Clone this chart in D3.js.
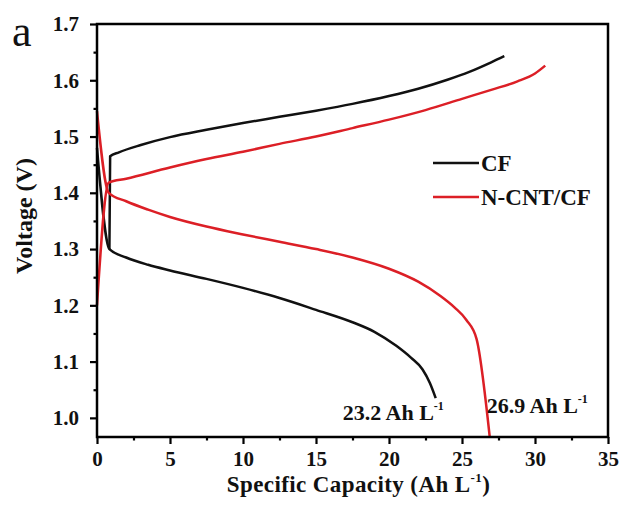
<!DOCTYPE html>
<html>
<head>
<meta charset="utf-8">
<script src="https://cdn.jsdelivr.net/npm/d3@7"></script>
<style>
  body { margin: 0; background: #fff; }
  text { font-family: "Liberation Serif", "Times New Roman", serif; }
</style>
</head>
<body>
<div id="chart"></div>
<script>
// charge / discharge curves (capacity in Ah/L, voltage in V)
const cfChargeX = [0.85, 0.9, 1.5, 3, 5, 7.5, 10, 12.5, 15, 17.5, 20, 22, 24, 25.5, 27, 27.9];
const cfChargeV = [1.30, 1.465, 1.472, 1.485, 1.499, 1.512, 1.524, 1.535, 1.546, 1.558, 1.572, 1.585, 1.601, 1.615, 1.632, 1.643];
const cfDischargeX = [0, 0.85, 2, 3.5, 5, 7.5, 10, 12.5, 15, 17.5, 19, 20.5, 21.5, 22.3, 22.8, 23.2];
const cfDischargeV = [1.48, 1.30, 1.285, 1.272, 1.262, 1.247, 1.231, 1.213, 1.192, 1.17, 1.153, 1.128, 1.107, 1.086, 1.062, 1.035];
const cntChargeX = [0, 0.8, 2, 5, 7.5, 10, 12.5, 15, 17.5, 20, 22.5, 25, 27, 28.8, 30, 30.7];
const cntChargeV = [1.20, 1.418, 1.425, 1.445, 1.46, 1.473, 1.487, 1.5, 1.515, 1.53, 1.547, 1.567, 1.583, 1.598, 1.612, 1.626];
const cntDischargeX = [0, 0.8, 2, 3.5, 5, 7.5, 10, 12.5, 15, 17.5, 20, 22, 23.5, 24.5, 25.3, 26.0, 26.9];
const cntDischargeV = [1.545, 1.40, 1.385, 1.37, 1.357, 1.34, 1.326, 1.313, 1.3, 1.285, 1.265, 1.242, 1.217, 1.196, 1.174, 1.14, 0.966];

const xMajor = [0, 5, 10, 15, 20, 25, 30, 35];
const xMinor = [2.5, 7.5, 12.5, 17.5, 22.5, 27.5, 32.5];
const yMajor = [1.0, 1.1, 1.2, 1.3, 1.4, 1.5, 1.6, 1.7];
const yMinor = [1.05, 1.15, 1.25, 1.35, 1.45, 1.55, 1.65];

const seriesNames = ["CF", "N-CNT/CF"];
const seriesColors = ["#111111", "#dc1f26"];

const width = 623, height = 508;
const box = { left: 97, right: 608, top: 24, bottom: 437 };

const svg = d3.select("#chart").append("svg")
  .attr("width", width)
  .attr("height", height);

const x = d3.scaleLinear().domain([0, 35]).range([box.left, box.right]);
const y = d3.scaleLinear().domain([0.966, 1.7]).range([box.bottom, box.top]);

const line = d3.line()
  .x(d => x(d[0]))
  .y(d => y(d[1]))
  .curve(d3.curveMonotoneX);

const zip = (a, b) => a.map((v, i) => [v, b[i]]);

const curves = [
  { pts: zip(cfChargeX, cfChargeV), color: seriesColors[0] },
  { pts: zip(cfDischargeX, cfDischargeV), color: seriesColors[0] },
  { pts: zip(cntChargeX, cntChargeV), color: seriesColors[1] },
  { pts: zip(cntDischargeX, cntDischargeV), color: seriesColors[1] },
];

svg.append("g")
  .selectAll("path")
  .data(curves)
  .enter()
  .append("path")
  .attr("d", d => line(d.pts))
  .attr("fill", "none")
  .attr("stroke", d => d.color)
  .attr("stroke-width", 2.5)
  .attr("stroke-linejoin", "round");

// frame
svg.append("rect")
  .attr("x", box.left).attr("y", box.top)
  .attr("width", box.right - box.left).attr("height", box.bottom - box.top)
  .attr("fill", "none")
  .attr("stroke", "#000")
  .attr("stroke-width", 2.5);

// axes
const yAxis = svg.append("g")
  .attr("transform", `translate(${box.left},0)`)
  .call(d3.axisLeft(y).tickValues(yMajor).tickSize(7).tickPadding(11).tickFormat(d3.format(".1f")));
const yAxisMinor = svg.append("g")
  .attr("transform", `translate(${box.left},0)`)
  .call(d3.axisLeft(y).tickValues(yMinor).tickSize(3.5).tickFormat(""));
const xAxis = svg.append("g")
  .attr("transform", `translate(0,${box.bottom})`)
  .call(d3.axisBottom(x).tickValues(xMajor).tickSize(7).tickPadding(7));
const xAxisMinor = svg.append("g")
  .attr("transform", `translate(0,${box.bottom})`)
  .call(d3.axisBottom(x).tickValues(xMinor).tickSize(3.5).tickFormat(""));

[yAxis, yAxisMinor, xAxis, xAxisMinor].forEach(a => {
  a.select(".domain").remove();
  a.selectAll("line").attr("stroke", "#000").attr("stroke-width", 2.2);
  a.selectAll("text")
    .attr("fill", "#111")
    .style("font-family", '"Liberation Serif", serif')
    .style("font-weight", "bold")
    .style("font-size", "21px");
});

// axis titles
const xt = svg.append("text")
  .attr("x", (box.left + box.right) / 2 + 6)
  .attr("y", 492)
  .attr("text-anchor", "middle")
  .style("font-weight", "bold")
  .style("font-size", "23px")
  .style("letter-spacing", "0.4px")
  .attr("fill", "#111");
xt.append("tspan").text("Specific Capacity (Ah L");
xt.append("tspan").text("-1").attr("dy", -10).style("font-size", "13px");
xt.append("tspan").text(")").attr("dy", 10);

svg.append("text")
  .attr("transform", `translate(32,216) rotate(-90)`)
  .attr("text-anchor", "middle")
  .style("font-weight", "bold")
  .style("font-size", "24px")
  .attr("fill", "#111")
  .text("Voltage (V)");

// panel letter
svg.append("text")
  .attr("x", 12).attr("y", 46)
  .style("font-size", "44px")
  .attr("fill", "#111")
  .text("a");

// legend
const legend = svg.append("g");
seriesNames.forEach((name, i) => {
  const ly = 163 + i * 34;
  legend.append("line")
    .attr("x1", 433).attr("x2", 479)
    .attr("y1", ly).attr("y2", ly)
    .attr("stroke", seriesColors[i])
    .attr("stroke-width", 2.6);
  legend.append("text")
    .attr("x", 481).attr("y", ly + 8)
    .style("font-weight", "bold")
    .style("font-size", "23px")
    .attr("fill", "#111")
    .text(name);
});

// capacity annotations
const notes = [
  { label: "23.2 Ah L", xv: 23.2, dx: -93, yv: 1.0, dy: 2 },
  { label: "26.9 Ah L", xv: 26.9, dx: -3, yv: 1.0, dy: -5 },
];
notes.forEach(n => {
  const t = svg.append("text")
    .attr("x", x(n.xv) + n.dx)
    .attr("y", y(n.yv) + n.dy)
    .style("font-weight", "bold")
    .style("font-size", "22px")
    .attr("fill", "#111");
  t.append("tspan").text(n.label);
  t.append("tspan").text("-1").attr("dy", -10).style("font-size", "12px");
});
</script>
</body>
</html>
